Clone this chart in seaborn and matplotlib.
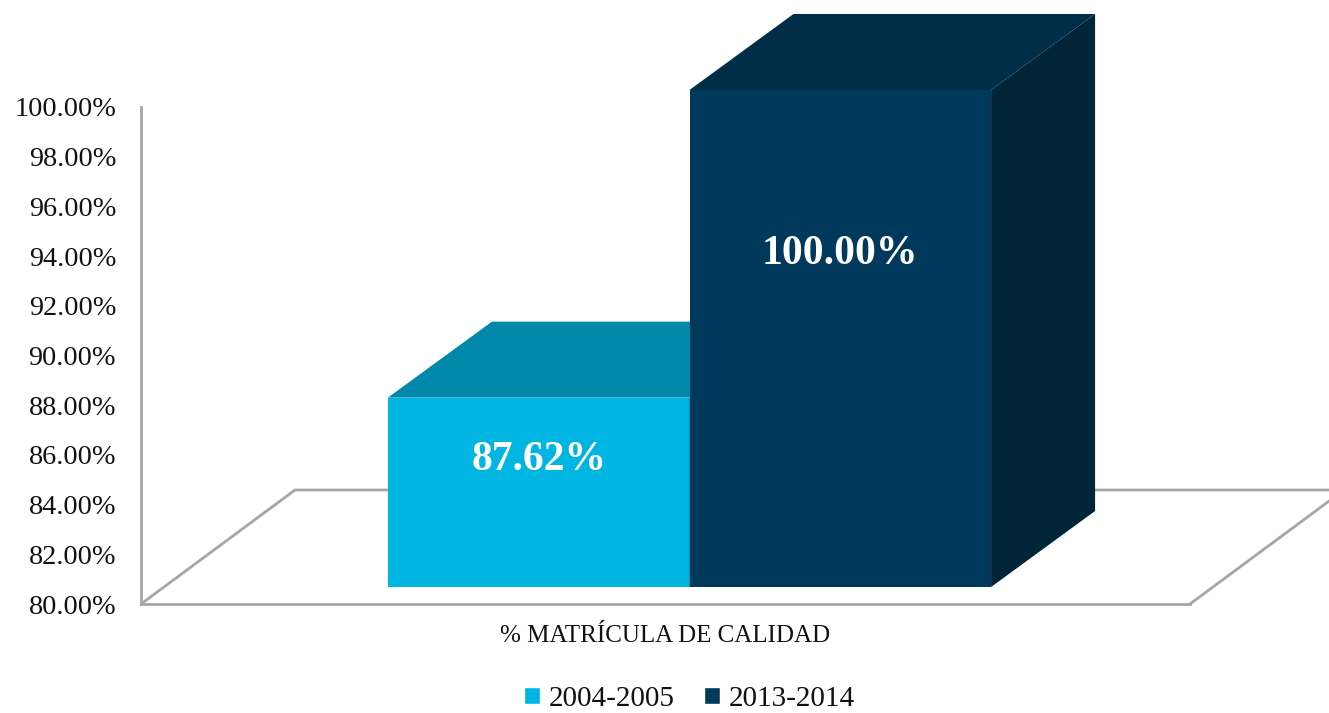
import pandas as pd
import matplotlib
matplotlib.use("Agg")
import matplotlib.pyplot as plt
from matplotlib.patches import Polygon
import seaborn as sns

# data
categories = ["% MATRÍCULA DE CALIDAD"]
periods = ["2004-2005", "2013-2014"]
values = [87.62, 100.00]

front_colors = ["#00B5E2", "#00395C"]
top_colors = ["#0088AA", "#002D48"]
side_colors = ["#006F8C", "#002438"]

df = pd.DataFrame({"cat": categories * len(periods), "periodo": periods, "valor": values})

sns.set_style("white")
plt.rcParams["font.family"] = ["Liberation Serif", "DejaVu Serif"]
plt.rcParams["text.color"] = "#111111"
plt.rcParams["xtick.color"] = "#111111"
plt.rcParams["ytick.color"] = "#111111"

fig = plt.figure(figsize=(13.29, 7.13), dpi=100)
ax = fig.add_axes([141 / 1329, 109 / 713, 1049 / 1329, 497 / 713])

sns.barplot(data=df, x="cat", y="valor", hue="periodo", palette=front_colors,
            width=0.575, ax=ax, saturation=1, zorder=2)

ax.set_xlim(-0.5, 0.5)
ax.set_ylim(80, 100)
ax.set_yticks(range(80, 101, 2))
ax.set_yticklabels([f"{t:.2f}%" for t in range(80, 101, 2)], fontsize=20.3)
ax.tick_params(axis="y", length=0, pad=18, labelcolor="#111111")
ax.tick_params(axis="x", length=0, pad=15, labelsize=18, labelcolor="#111111")
ax.set_xlabel("")
ax.set_ylabel("")
for s in ["top", "right"]:
    ax.spines[s].set_visible(False)
for s in ["left", "bottom"]:
    ax.spines[s].set_color("#A6A6A6")
    ax.spines[s].set_linewidth(2)

# pixel -> data conversions
px_x = 1049.0
px_y = 497.0 / 20
front_dx, front_dy = 24 / px_x, 17 / px_y      # bar front plane vs floor front
depth_dx, depth_dy = 104 / px_x, 76 / px_y     # bar depth
floor_dx, floor_dy = 154 / px_x, 114 / px_y    # floor depth

# floor outline (back part)
fx = [-0.5, -0.5 + floor_dx, 0.5 + floor_dx, 0.5]
fy = [80, 80 + floor_dy, 80 + floor_dy, 80]
ax.plot(fx, fy, color="#A6A6A6", lw=2, zorder=0.5, clip_on=False)

bars = sorted(ax.patches, key=lambda p: p.get_x())
for i, (p, v) in enumerate(zip(bars, values)):
    x0 = p.get_x() + front_dx
    w = p.get_width()
    x1 = x0 + w
    y0 = 80 + front_dy
    y1 = v + front_dy
    p.set_x(x0)
    p.set_y(y0)
    p.set_height(v - 80)
    p.set_clip_on(False)
    p.set_edgecolor("none")
    p.set_zorder(2 + i)
    top = Polygon([(x0, y1), (x1, y1), (x1 + depth_dx, y1 + depth_dy), (x0 + depth_dx, y1 + depth_dy)],
                  closed=True, facecolor=top_colors[i], edgecolor="none", clip_on=False, zorder=2 + i)
    side = Polygon([(x1, y0), (x1, y1), (x1 + depth_dx, y1 + depth_dy), (x1 + depth_dx, y0 + depth_dy)],
                   closed=True, facecolor=side_colors[i], edgecolor="none", clip_on=False, zorder=2 + i)
    ax.add_patch(side)
    ax.add_patch(top)
    ax.text(x0 + w / 2, y0 + 0.67 * (v - 80), f"{v:.2f}%", color="white", fontsize=30,
            fontweight="bold", ha="center", va="center", zorder=5)

sns.move_legend(ax, "center", bbox_to_anchor=(689 / 1329, 14 / 713), bbox_transform=fig.transFigure,
                ncol=2, frameon=False, title=None, fontsize=21, handlelength=0.55, handleheight=0.55,
                handletextpad=0.3, columnspacing=1.0)
for t in ax.get_legend().get_texts():
    t.set_color("#111111")

fig.savefig("out.png", dpi=100)
